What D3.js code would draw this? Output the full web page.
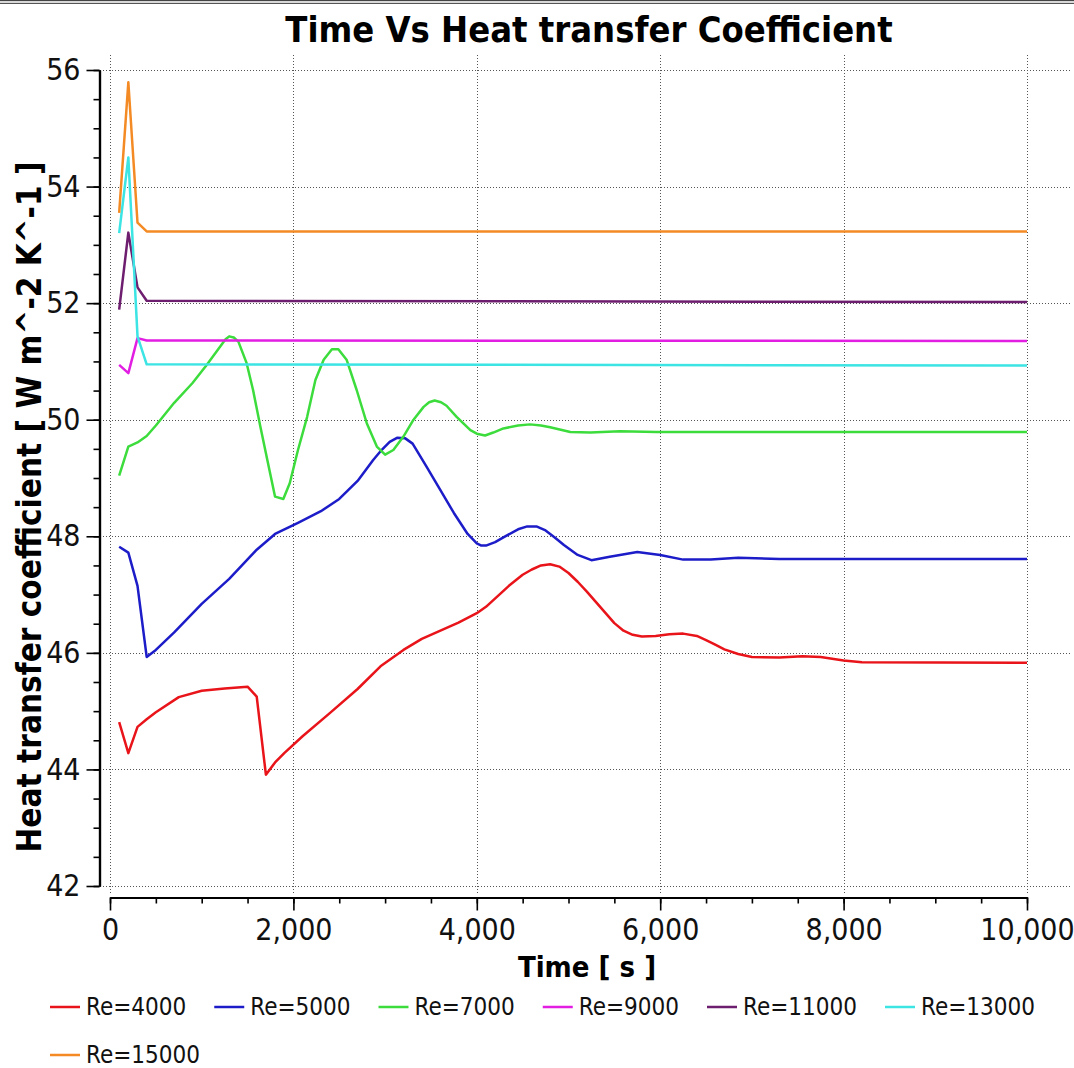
<!DOCTYPE html>
<html>
<head>
<meta charset="utf-8">
<script src="https://cdn.jsdelivr.net/npm/d3@7"></script>
<style>
  body { margin: 0; background: #fff; }
  svg { display: block; }
  text { font-family: 'DejaVu Sans Condensed', 'DejaVu Sans', sans-serif; font-stretch: condensed; }
</style>
</head>
<body>
<svg id="chart"></svg>
<script>
// Time vs heat transfer coefficient, one line per Reynolds number

// series data: [time (s), h (W m^-2 K^-1)]
let re4000 = [[100,44.81],[200,44.28],[300,44.73],[400,44.86],[500,44.98],[750,45.24],[1000,45.35],[1250,45.39],[1500,45.42],[1600,45.25],[1700,43.91],[1800,44.12],[1900,44.28],[2100,44.57],[2400,44.97],[2700,45.38],[2950,45.77],[3200,46.05],[3400,46.24],[3800,46.52],[4000,46.68],[4100,46.79],[4350,47.15],[4500,47.34],[4600,47.43],[4700,47.50],[4800,47.52],[4900,47.48],[5000,47.37],[5100,47.22],[5200,47.05],[5300,46.87],[5400,46.69],[5500,46.51],[5600,46.38],[5700,46.31],[5800,46.28],[5950,46.29],[6100,46.32],[6250,46.33],[6400,46.29],[6500,46.22],[6600,46.14],[6700,46.06],[6850,45.98],[7000,45.93],[7300,45.92],[7550,45.94],[7750,45.93],[8000,45.87],[8200,45.84],[10000,45.83]]
let re5000 = [[100,47.82],[200,47.72],[300,47.15],[400,45.93],[500,46.05],[700,46.35],[1000,46.84],[1300,47.27],[1600,47.77],[1800,48.04],[2050,48.23],[2300,48.43],[2500,48.64],[2700,48.95],[2870,49.31],[2950,49.46],[3050,49.62],[3130,49.69],[3220,49.68],[3300,49.59],[3450,49.20],[3600,48.80],[3750,48.40],[3900,48.04],[4000,47.88],[4050,47.84],[4100,47.84],[4200,47.90],[4300,47.99],[4450,48.12],[4550,48.17],[4650,48.17],[4750,48.10],[4850,47.98],[4950,47.85],[5100,47.68],[5250,47.59],[5450,47.65],[5750,47.73],[6000,47.68],[6250,47.60],[6550,47.60],[6850,47.63],[7300,47.61],[10000,47.61]]
let re7000 = [[100,49.04],[200,49.54],[300,49.61],[400,49.72],[500,49.90],[700,50.29],[900,50.63],[1050,50.93],[1200,51.25],[1260,51.38],[1300,51.43],[1350,51.41],[1400,51.34],[1490,50.97],[1560,50.51],[1640,49.88],[1730,49.20],[1800,48.68],[1890,48.64],[1960,48.91],[2050,49.48],[2150,50.05],[2240,50.68],[2330,51.03],[2420,51.21],[2490,51.21],[2580,51.03],[2690,50.51],[2800,49.94],[2910,49.54],[3000,49.40],[3090,49.48],[3200,49.71],[3310,50.00],[3420,50.22],[3480,50.30],[3540,50.33],[3610,50.30],[3670,50.24],[3780,50.05],[3930,49.82],[4000,49.76],[4090,49.73],[4180,49.78],[4290,49.85],[4450,49.90],[4580,49.92],[4700,49.90],[4800,49.87],[5020,49.79],[5240,49.78],[5560,49.80],[5960,49.79],[10000,49.79]]
let re9000 = [[100,50.94],[200,50.80],[300,51.40],[400,51.36],[10000,51.35]]
let re11000 = [[100,51.89],[200,53.21],[300,52.27],[400,52.04],[10000,52.02]]
let re13000 = [[100,53.20],[200,54.50],[300,51.43],[400,50.95],[10000,50.93]]
let re15000 = [[100,53.55],[200,55.79],[300,53.38],[400,53.23],[10000,53.23]]

let seriesNames = ['Re=4000', 'Re=5000', 'Re=7000', 'Re=9000', 'Re=11000', 'Re=13000', 'Re=15000']
let seriesData = [re4000, re5000, re7000, re9000, re11000, re13000, re15000]
let colors = ['#e8141a', '#1c1cc8', '#3ddc3d', '#e21ee2', '#6e1e6e', '#3ce4e4', '#f48a24']

let xTicks = [0, 2000, 4000, 6000, 8000, 10000]
let yTicks = [42, 44, 46, 48, 50, 52, 54, 56]

//Dimensions
let width = 1074
let height = 1068
let plotLeft = 110
let plotRight = 1027
let plotTop = 70
let plotBottom = 886

let svg = d3.select('#chart')
            .attr('width', width)
            .attr('height', height)

// window frame remnant at the very top
svg.append('rect').attr('x', 0).attr('y', 0).attr('width', width).attr('height', 4).attr('fill', '#d8d8d8')
svg.append('line').attr('x1', 0).attr('x2', width).attr('y1', 0.5).attr('y2', 0.5).attr('stroke', '#444')
svg.append('line').attr('x1', 0).attr('x2', width).attr('y1', 3.5).attr('y2', 3.5).attr('stroke', '#555')

let xScale = d3.scaleLinear().domain([0, 10000]).range([plotLeft, plotRight])
let yScale = d3.scaleLinear().domain([42, 56]).range([plotBottom, plotTop])

// grid
let grid = svg.append('g').attr('stroke', '#555').attr('stroke-width', 1).attr('stroke-dasharray', '1,2')
grid.selectAll('.hgrid')
    .data(yTicks)
    .enter()
    .append('line')
    .attr('x1', 100).attr('x2', 1071)
    .attr('y1', d => Math.round(yScale(d)) + 0.5)
    .attr('y2', d => Math.round(yScale(d)) + 0.5)
grid.selectAll('.vgrid')
    .data(xTicks)
    .enter()
    .append('line')
    .attr('y1', 55).attr('y2', 893)
    .attr('x1', d => Math.round(xScale(d)) + 0.5)
    .attr('x2', d => Math.round(xScale(d)) + 0.5)

// lines
let line = d3.line()
             .x(d => xScale(d[0]))
             .y(d => yScale(d[1]))

svg.append('g')
   .selectAll('path')
   .data(seriesData)
   .enter()
   .append('path')
   .attr('d', d => line(d))
   .attr('fill', 'none')
   .attr('stroke', (d, i) => colors[i])
   .attr('stroke-width', 2.5)
   .attr('stroke-linejoin', 'round')

// axes (minor ticks first, then labelled majors)
let yMinor = d3.range(42, 56.01, 0.5)
let xMinor = d3.range(0, 10001, 500)

let yAxisG = svg.append('g').attr('transform', 'translate(99.5,0)')
yAxisG.call(d3.axisLeft(yScale).tickValues(yMinor).tickSize(6).tickSizeOuter(0).tickFormat(''))
yAxisG.append('g').call(d3.axisLeft(yScale).tickValues(yTicks).tickSize(13).tickSizeOuter(0).tickPadding(6))

let xAxisG = svg.append('g').attr('transform', 'translate(0,897.5)')
xAxisG.call(d3.axisBottom(xScale).tickValues(xMinor).tickSize(6).tickSizeOuter(0).tickFormat(''))
xAxisG.append('g').call(d3.axisBottom(xScale).tickValues(xTicks).tickSize(13).tickSizeOuter(0).tickPadding(8).tickFormat(d3.format(',')))

svg.selectAll('.domain').attr('stroke', '#000').attr('stroke-width', 2.2)
svg.selectAll('.tick line').attr('stroke', '#000').attr('stroke-width', 1.6)
svg.selectAll('.tick text').attr('font-size', 30).attr('fill', '#111')
    .style('font-family', "'DejaVu Sans Condensed', 'DejaVu Sans', sans-serif")

// titles
svg.append('text')
   .attr('x', 589)
   .attr('y', 42)
   .attr('text-anchor', 'middle')
   .attr('font-weight', 'bold')
   .attr('font-size', 36)
   .text('Time Vs Heat transfer Coefficient')

svg.append('text')
   .attr('x', 587)
   .attr('y', 977)
   .attr('text-anchor', 'middle')
   .attr('font-weight', 'bold')
   .attr('font-size', 29)
   .text('Time [ s ]')

svg.append('text')
   .attr('transform', 'translate(41,507) rotate(-90)')
   .attr('text-anchor', 'middle')
   .attr('font-weight', 'bold')
   .attr('font-size', 33)
   .text('Heat transfer coefficient [ W m^-2 K^-1 ]')

// legend, flowing left to right and wrapping
let legend = svg.append('g').attr('id', 'legend')
let lx = 50
let ly = 1007
seriesNames.forEach((name, i) => {
    let item = legend.append('g')
    item.append('line')
        .attr('x1', 0).attr('x2', 30)
        .attr('y1', 0).attr('y2', 0)
        .attr('stroke', colors[i])
        .attr('stroke-width', 2.5)
    let label = item.append('text')
        .attr('x', 36)
        .attr('y', 8)
        .attr('font-size', 24)
        .attr('fill', '#111')
        .text(name)
    let w = 36 + label.node().getComputedTextLength()
    if (lx + w > 1040) {
        lx = 50
        ly += 48
    }
    item.attr('transform', `translate(${lx},${ly})`)
    lx += w + 28
})
</script>
</body>
</html>
